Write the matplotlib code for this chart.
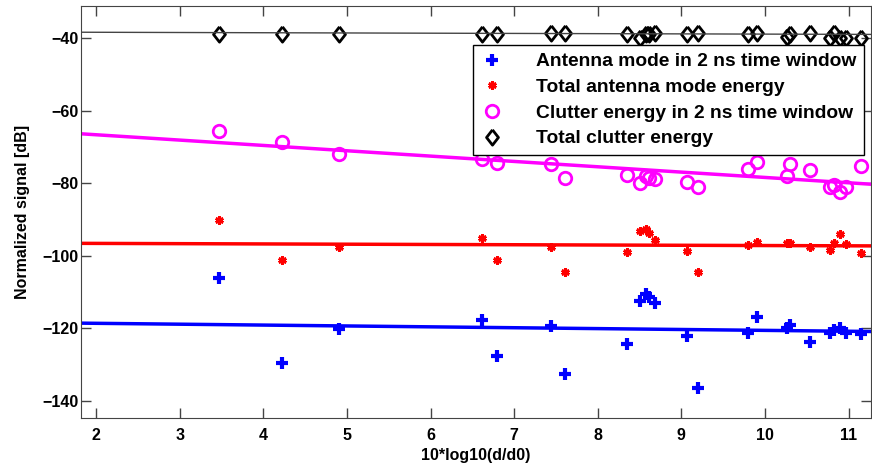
import matplotlib.pyplot as plt
import numpy as np

plt.rcParams['font.family'] = ['Liberation Sans', 'DejaVu Sans']
plt.rcParams['font.weight'] = 'bold'

# distance axis 10*log10(d/d0)
dist = [3.47, 4.22, 4.90, 6.62, 6.79, 7.44, 7.61, 8.35, 8.51, 8.58, 8.61, 8.68,
        9.07, 9.20, 9.80, 9.90, 10.26, 10.30, 10.54, 10.78, 10.82, 10.90, 10.97, 11.15]

antenna_2ns = [-106.1, -129.5, -120.2, -117.7, -127.6, -119.3, -132.6, -124.3, -112.4, -110.5, -111.3, -113.0,
               -122.1, -136.4, -121.2, -116.8, -119.8, -119.1, -123.7, -121.2, -120.4, -119.9, -121.2, -121.5]
antenna_total = [-90.1, -101.2, -97.5, -95.1, -101.2, -97.5, -104.4, -99.1, -93.3, -92.7, -93.8, -95.6,
                 -98.6, -104.4, -97.0, -96.1, -96.6, -96.4, -97.7, -98.4, -96.4, -94.0, -96.7, -99.3]
clutter_2ns = [-65.5, -68.6, -72.0, -73.3, -74.5, -74.8, -78.5, -77.7, -80.0, -78.0, -78.7, -78.9,
               -79.8, -81.1, -76.2, -74.1, -78.0, -74.8, -76.4, -81.1, -80.5, -82.5, -81.1, -75.4]
clutter_total = [-38.9, -38.9, -39.0, -38.9, -38.9, -38.7, -38.7, -39.0, -40.1, -38.9, -38.9, -38.5,
                 -39.0, -38.7, -39.0, -38.7, -39.8, -38.9, -38.5, -39.9, -38.7, -39.9, -39.9, -39.9]

# fitted trend lines (value at left and right end of the range)
fit_x = [1.82, 11.27]
fit_antenna_2ns = [-118.6, -120.9]
fit_antenna_total = [-96.6, -97.3]
fit_clutter_2ns = [-66.4, -80.3]
fit_clutter_total = [-38.4, -39.0]

labels = ['Antenna mode in 2 ns time window', 'Total antenna mode energy',
          'Clutter energy in 2 ns time window', 'Total clutter energy']

# matlab-like diamond, a bit taller than wide
diamond = [(0, 1), (0.78, 0), (0, -1), (-0.78, 0), (0, 1)]

fig = plt.figure(figsize=(8.72, 4.70), dpi=100)
ax = fig.add_axes([0.093, 0.111, 0.906, 0.876])

h1, = ax.plot(dist, antenna_2ns, '+', color='#0000ff', ms=9, mew=3, ls='none')
h2, = ax.plot(dist, antenna_total, marker=(6, 2, 0), color='#ff0000', ms=6, mew=2, ls='none')
h3, = ax.plot(dist, clutter_2ns, 'o', mfc='none', mec='#ff00ff', ms=9, mew=2, ls='none')
h4, = ax.plot(dist, clutter_total, marker=diamond, mfc='none', mec='k', ms=11, mew=2, ls='none')

ax.plot(fit_x, fit_antenna_2ns, color='#0000ff', lw=2.5)
ax.plot(fit_x, fit_antenna_total, color='#ff0000', lw=2.5)
ax.plot(fit_x, fit_clutter_2ns, color='#ff00ff', lw=2.5)
ax.plot(fit_x, fit_clutter_total, color='#444444', lw=1)

ax.set_xlim(1.82, 11.27)
ax.set_ylim(-144.7, -31.2)
ax.set_xticks(np.arange(2, 12, 1))
ax.set_yticks(np.arange(-140, -39, 20))
ax.tick_params(direction='in', length=7, width=1, top=True, right=True, labelsize=11.5,
               color='#444444')
ax.tick_params(axis='x', pad=7)
ax.tick_params(axis='y', pad=2)
for s in ax.spines.values():
    s.set_color('#444444')

ax.set_xlabel('10*log10(d/d0)', fontsize=11.5, fontweight='bold', labelpad=4)
ax.set_ylabel('Normalized signal [dB]', fontsize=11.5, fontweight='bold', labelpad=9)

leg = ax.legend([h1, h2, h3, h4], labels, loc='upper right', bbox_to_anchor=(0.991, 0.905),
                fontsize=13.9, frameon=True, fancybox=False, borderpad=0.4,
                handlelength=1.1, handletextpad=1.75, labelspacing=0.42,
                borderaxespad=0)
leg.get_frame().set_edgecolor('k')
leg.get_frame().set_linewidth(1)
leg.get_frame().set_alpha(1)

fig.savefig('out.png', dpi=100)
